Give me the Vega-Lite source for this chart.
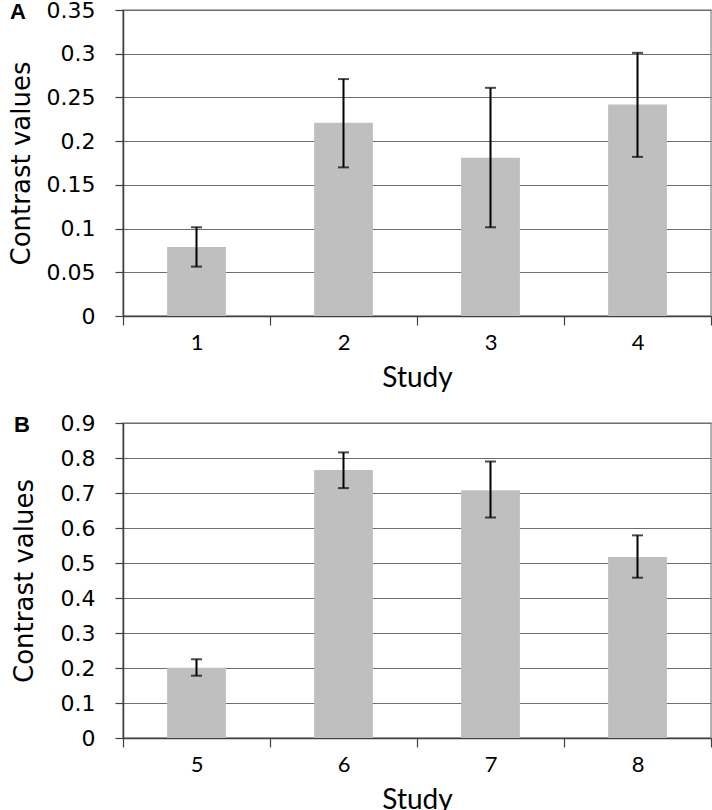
{
  "$schema": "https://vega.github.io/schema/vega-lite/v6.json",
  "padding": {"left": 7, "top": -2, "right": 2, "bottom": 0},
  "autosize": {"type": "pad"},
  "background": "white",
  "datasets": {
    "a": [
      {"study": "1", "value": 0.079, "lo": 0.0565, "hi": 0.1015},
      {"study": "2", "value": 0.221, "lo": 0.170, "hi": 0.271},
      {"study": "3", "value": 0.181, "lo": 0.1015, "hi": 0.261},
      {"study": "4", "value": 0.242, "lo": 0.182, "hi": 0.301}
    ],
    "b": [
      {"study": "5", "value": 0.201, "lo": 0.178, "hi": 0.225},
      {"study": "6", "value": 0.766, "lo": 0.714, "hi": 0.816},
      {"study": "7", "value": 0.708, "lo": 0.630, "hi": 0.790},
      {"study": "8", "value": 0.517, "lo": 0.458, "hi": 0.579}
    ]
  },
  "config": {
    "view": {"stroke": "#9a9a9a", "strokeWidth": 1.5},
    "axisX": {
      "tickBand": "extent",
      "domainColor": "#404040",
      "domainWidth": 1.5,
      "tickColor": "#404040",
      "tickWidth": 1.2,
      "tickSize": 9,
      "labelFont": "Lato",
      "labelFontSize": 22,
      "labelColor": "black",
      "labelPadding": 7,
      "labelAngle": 0,
      "titleFont": "Lato",
      "titleFontSize": 28,
      "titleFontWeight": "normal",
      "titleColor": "black",
      "titlePadding": 11,
      "grid": false
    },
    "axisY": {
      "domainColor": "#404040",
      "domainWidth": 1.5,
      "tickColor": "#404040",
      "tickWidth": 1.2,
      "tickSize": 8,
      "gridColor": "#6e6e6e",
      "gridWidth": 1.2,
      "labelFont": "DejaVu Sans",
      "labelFontSize": 22,
      "labelColor": "black",
      "labelPadding": 20,
      "labelOverlap": false,
      "titleFont": "DejaVu Sans",
      "titleFontSize": 26,
      "titleFontWeight": "normal",
      "titleColor": "black",
      "format": "~g"
    },
    "title": {"font": "Liberation Sans", "fontSize": 22, "fontWeight": "bold", "color": "black", "anchor": "start", "frame": "group", "baseline": "alphabetic"}
  },
  "spacing": 18,
  "vconcat": [
    {
      "width": 588,
      "height": 306,
      "title": {"text": "A", "offset": -25, "dx": -113},
      "data": {"name": "a"},
      "encoding": {
        "x": {"field": "study", "type": "nominal", "title": "Study", "scale": {"paddingInner": 0, "paddingOuter": 0}}
      },
      "layer": [
        {
          "mark": {"type": "bar", "color": "#bfbfbf", "width": {"band": 0.4}},
          "encoding": {
            "y": {"field": "value", "type": "quantitative", "title": "Contrast values",
                  "scale": {"domain": [0, 0.35], "nice": false},
                  "axis": {"values": [0, 0.05, 0.1, 0.15, 0.2, 0.25, 0.3, 0.35], "titlePadding": 12}}
          }
        },
        {
          "mark": {"type": "rule", "color": "black", "strokeWidth": 2},
          "encoding": {"y": {"field": "lo", "type": "quantitative", "title": "Contrast values", "axis": {"values": [0, 0.05, 0.1, 0.15, 0.2, 0.25, 0.3, 0.35], "titlePadding": 12}}, "y2": {"field": "hi"}}
        },
        {
          "mark": {"type": "tick", "color": "black", "thickness": 2, "size": 11},
          "encoding": {"y": {"field": "lo", "type": "quantitative", "title": "Contrast values", "axis": {"values": [0, 0.05, 0.1, 0.15, 0.2, 0.25, 0.3, 0.35], "titlePadding": 12}}}
        },
        {
          "mark": {"type": "tick", "color": "black", "thickness": 2, "size": 11},
          "encoding": {"y": {"field": "hi", "type": "quantitative", "title": "Contrast values", "axis": {"values": [0, 0.05, 0.1, 0.15, 0.2, 0.25, 0.3, 0.35], "titlePadding": 12}}}
        }
      ]
    },
    {
      "width": 588,
      "height": 315,
      "title": {"text": "B", "offset": -25, "dx": -109},
      "data": {"name": "b"},
      "encoding": {
        "x": {"field": "study", "type": "nominal", "title": "Study", "scale": {"paddingInner": 0, "paddingOuter": 0}}
      },
      "layer": [
        {
          "mark": {"type": "bar", "color": "#bfbfbf", "width": {"band": 0.4}},
          "encoding": {
            "y": {"field": "value", "type": "quantitative", "title": "Contrast values",
                  "scale": {"domain": [0, 0.9], "nice": false},
                  "axis": {"values": [0, 0.1, 0.2, 0.3, 0.4, 0.5, 0.6, 0.7, 0.8, 0.9], "titlePadding": 23}}
          }
        },
        {
          "mark": {"type": "rule", "color": "black", "strokeWidth": 2},
          "encoding": {"y": {"field": "lo", "type": "quantitative", "title": "Contrast values", "axis": {"values": [0, 0.1, 0.2, 0.3, 0.4, 0.5, 0.6, 0.7, 0.8, 0.9], "titlePadding": 23}}, "y2": {"field": "hi"}}
        },
        {
          "mark": {"type": "tick", "color": "black", "thickness": 2, "size": 11},
          "encoding": {"y": {"field": "lo", "type": "quantitative", "title": "Contrast values", "axis": {"values": [0, 0.1, 0.2, 0.3, 0.4, 0.5, 0.6, 0.7, 0.8, 0.9], "titlePadding": 23}}}
        },
        {
          "mark": {"type": "tick", "color": "black", "thickness": 2, "size": 11},
          "encoding": {"y": {"field": "hi", "type": "quantitative", "title": "Contrast values", "axis": {"values": [0, 0.1, 0.2, 0.3, 0.4, 0.5, 0.6, 0.7, 0.8, 0.9], "titlePadding": 23}}}
        }
      ]
    }
  ]
}
